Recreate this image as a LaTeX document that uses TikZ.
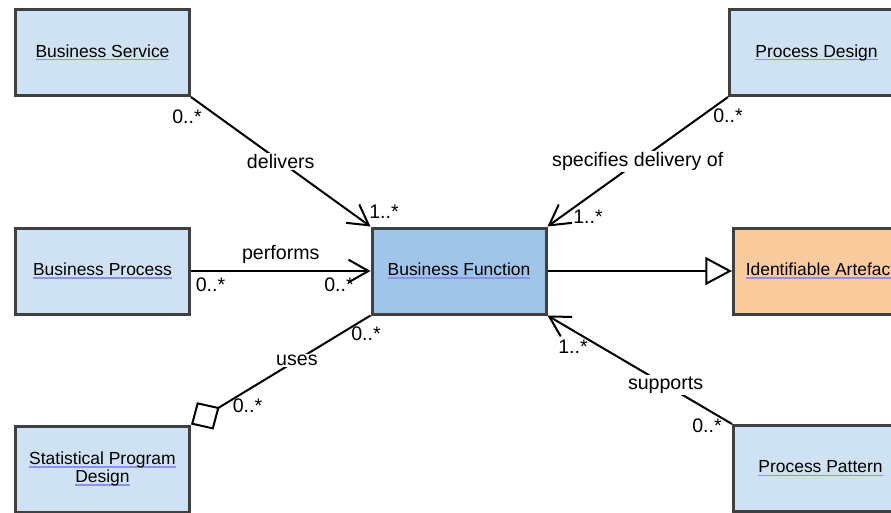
\documentclass[tikz,border=0pt]{standalone}
\usepackage{fontspec}
\setmainfont{Liberation Sans}
\usetikzlibrary{arrows.meta}

\definecolor{classblue}{HTML}{CFE2F3}
\definecolor{funcblue}{HTML}{9FC5E8}
\definecolor{artorange}{HTML}{F9CB9C}
\definecolor{borderdark}{HTML}{404040}
\definecolor{linkline}{HTML}{8F8FF0}

% underlined class name, as in the modelling tool
\newcommand{\lnk}[1]{\setbox0=\hbox{#1}\rlap{\color{linkline}\rule[-2.4pt]{\wd0}{1.1pt}}\box0}

\begin{document}
\begin{tikzpicture}[
        x=0.75pt, y=-0.75pt,
        class/.style={draw=borderdark, line width=2.25pt, fill=classblue,
            minimum width=130.5pt, minimum height=64.5pt, inner sep=0pt,
            align=center, font=\fontsize{13.1}{12}\selectfont},
        assoc/.style={line width=1.5pt},
        navig/.style={-{Straight Barb[length=15pt, width=17pt]}},
        role/.style={font=\fontsize{14.7}{16}\selectfont, inner sep=1pt},
        mult/.style={font=\fontsize{14.7}{16}\selectfont, inner sep=0pt}
    ]
        \useasboundingbox (0,0) rectangle (891,512);

        % Classes
        \node[class] (bs) at (102.5, 52.5) {\lnk{Business Service}};
        \node[class] (bp) at (102.5, 271) {\lnk{Business Process}};
        \node[class] (spd) at (102.5, 469) {\lnk{Statistical Program}\\\lnk{Design}};
        \node[class, fill=funcblue] (bf) at (459, 271) {\lnk{Business Function}};
        \node[class] (pd) at (816.5, 52.5) {\lnk{Process Design}};
        \node[class, fill=artorange] (ia) at (820.5, 271) {\lnk{Identifiable Artefact}};
        \node[class] (pp) at (820.5, 468.5) {\lnk{Process Pattern}};

        % Associations into Business Function
        \draw[assoc, navig] (bs.south east) -- node[role, fill=white] (delv) {delivers} (bf.north west);
        \draw[assoc, navig] (bp.east) -- node[role, above=4pt] (perf) {performs} (bf.west);
        \draw[assoc, {Diamond[open, length=25pt, width=24pt]}-] (spd.north east)
            -- node[role, fill=white, pos=0.59] (uses) {uses} (bf.south west);
        \draw[assoc, navig] (pd.south west) -- node[role, fill=white] (spec) {specifies delivery of} (bf.north east);
        \draw[assoc, navig] (pp.north west) -- node[role, fill=white, pos=0.36] (supp) {supports} (bf.south east);

        % Generalisation
        \draw[assoc, -{Triangle[open, length=20pt, width=21pt]}] (bf.east) -- (ia.west);

        % Multiplicities
        \node[mult] (mbs) at (187, 117) {0..*};
        \node[mult] (mbfa) at (384, 212) {1..*};
        \node[mult] (mbp) at (210.5, 285) {0..*};
        \node[mult] (mbfb) at (339, 285) {0..*};
        \node[mult] (mspd) at (247.5, 406) {0..*};
        \node[mult] (mbfc) at (366, 334) {0..*};
        \node[mult] (mpd) at (728, 116) {0..*};
        \node[mult] (mbfd) at (588, 217) {1..*};
        \node[mult] (mbfe) at (573, 347) {1..*};
        \node[mult] (mpp) at (707, 426) {0..*};

    \end{tikzpicture}
\end{document}
